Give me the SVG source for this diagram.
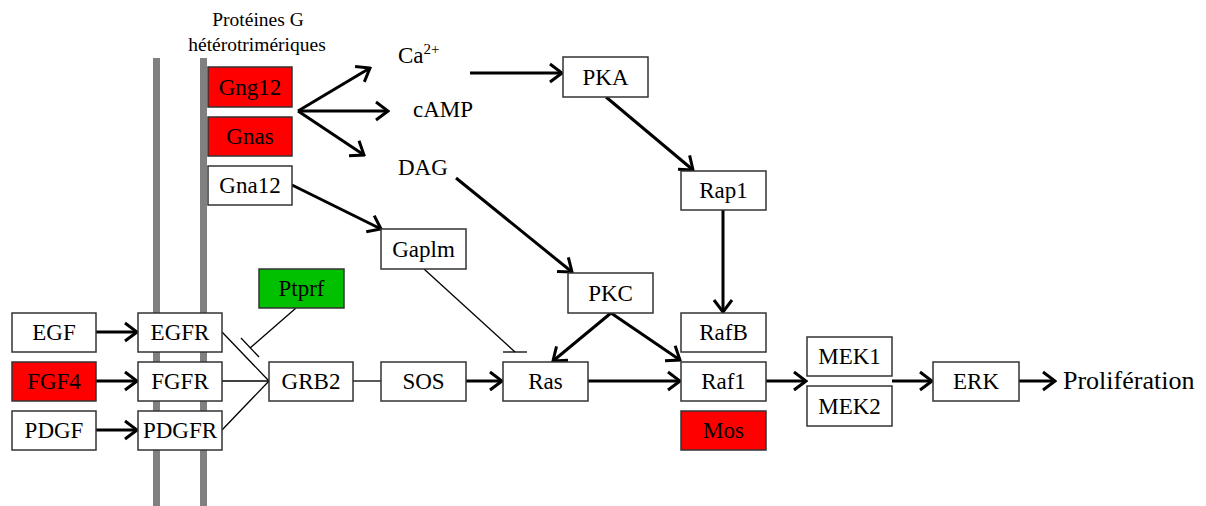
<svg xmlns="http://www.w3.org/2000/svg" width="1206" height="506" viewBox="0 0 1206 506">
<defs>
<marker id="arr" viewBox="0 0 16 22" refX="14" refY="11" markerWidth="16" markerHeight="22" markerUnits="userSpaceOnUse" orient="auto">
<path d="M2,2 L14,11 L2,20" fill="none" stroke="#000" stroke-width="3"/>
</marker>
<style>
.box{fill:#fff;stroke:#333;stroke-width:1.5}
.red{fill:#ff0000}
.green{fill:#00c000}
.t{font-family:"Liberation Serif","Times New Roman",serif;font-size:23px;fill:#000;text-anchor:middle}
.lbl{font-family:"Liberation Serif","Times New Roman",serif;font-size:23px;fill:#000}
.thick{fill:none;stroke:#000;stroke-width:3;marker-end:url(#arr)}
.thin{fill:none;stroke:#000;stroke-width:1.3}
.bar{fill:#808080}
</style>
</defs>
<rect width="1206" height="506" fill="#fff"/>
<g id="membrane">
<rect class="bar" x="153" y="58" width="7" height="448"/>
<rect class="bar" x="200" y="58" width="7" height="448"/>
</g>
<g id="title">
<text class="t" x="258" y="26" style="font-size:19.5px">Protéines G</text>
<text class="t" x="257" y="51" style="font-size:19.5px">hétérotrimériques</text>
</g>
<g id="connectors">
<path class="thick" d="M96,332 H137"/>
<path class="thick" d="M96,381 H137"/>
<path class="thick" d="M96,430 H137"/>
<path class="thick" d="M466,381 H502"/>
<path class="thick" d="M588,381 H680"/>
<path class="thick" d="M766,381 H806"/>
<path class="thick" d="M892,381 H932"/>
<path class="thick" d="M1019,381 H1055"/>
<path class="thick" d="M470,73 H562"/>
<path class="thick" d="M606,97 L693,170"/>
<path class="thick" d="M723,210 V312"/>
<path class="thick" d="M456,178 L572,272"/>
<path class="thick" d="M611,313 L553,361"/>
<path class="thick" d="M611,313 L680,360"/>
<path class="thick" d="M298,111 L370,68"/>
<path class="thick" d="M298,111 H388"/>
<path class="thick" d="M298,111 L364,155"/>
<path class="thick" d="M292,185 L381,229"/>
<path class="thin" d="M222,332 L269,381"/>
<path class="thin" d="M222,381 H269"/>
<path class="thin" d="M222,430 L269,381"/>
<path class="thin" d="M353,381 H381"/>
<path class="thin" d="M296,308 L250,348"/>
<path class="thin" d="M241,338 L259,357"/>
<path class="thin" d="M424,269 L515,352"/>
<path class="thin" d="M503,352 H527"/>
</g>
<g id="EGF"><rect class="box" x="12" y="313" width="84" height="39"/><text class="t" x="54" y="340">EGF</text></g>
<g id="FGF4"><rect class="box red" x="12" y="362" width="84" height="39"/><text class="t" x="54" y="389">FGF4</text></g>
<g id="PDGF"><rect class="box" x="12" y="411" width="84" height="39"/><text class="t" x="54" y="438">PDGF</text></g>
<g id="EGFR"><rect class="box" x="138" y="313" width="84" height="39"/><text class="t" x="180" y="340">EGFR</text></g>
<g id="FGFR"><rect class="box" x="138" y="362" width="84" height="39"/><text class="t" x="180" y="389">FGFR</text></g>
<g id="PDGFR"><rect class="box" x="138" y="411" width="84" height="39"/><text class="t" x="180" y="438">PDGFR</text></g>
<g id="GRB2"><rect class="box" x="269" y="362" width="84" height="39"/><text class="t" x="311" y="389">GRB2</text></g>
<g id="Ptprf"><rect class="box green" x="259" y="269" width="85" height="39"/><text class="t" x="301.5" y="296">Ptprf</text></g>
<g id="SOS"><rect class="box" x="381" y="362" width="85" height="39"/><text class="t" x="423.5" y="389">SOS</text></g>
<g id="Ras"><rect class="box" x="503" y="362" width="85" height="39"/><text class="t" x="545.5" y="389">Ras</text></g>
<g id="Gaplm"><rect class="box" x="381" y="229" width="85" height="40"/><text class="t" x="423.5" y="257">Gaplm</text></g>
<g id="PKC"><rect class="box" x="568" y="273" width="85" height="40"/><text class="t" x="610.5" y="301">PKC</text></g>
<g id="PKA"><rect class="box" x="563" y="57" width="85" height="40"/><text class="t" x="605.5" y="85">PKA</text></g>
<g id="Rap1"><rect class="box" x="681" y="171" width="85" height="39"/><text class="t" x="723.5" y="198">Rap1</text></g>
<g id="RafB"><rect class="box" x="681" y="313" width="85" height="39"/><text class="t" x="723.5" y="340">RafB</text></g>
<g id="Raf1"><rect class="box" x="681" y="362" width="85" height="39"/><text class="t" x="723.5" y="389">Raf1</text></g>
<g id="Mos"><rect class="box red" x="681" y="411" width="85" height="39"/><text class="t" x="723.5" y="438">Mos</text></g>
<g id="MEK1"><rect class="box" x="807" y="337" width="85" height="39"/><text class="t" x="849.5" y="364">MEK1</text></g>
<g id="MEK2"><rect class="box" x="807" y="386" width="85" height="40"/><text class="t" x="849.5" y="414">MEK2</text></g>
<g id="ERK"><rect class="box" x="933" y="362" width="86" height="39"/><text class="t" x="976" y="389">ERK</text></g>
<g id="Gng12"><rect class="box red" x="208" y="67" width="84" height="40"/><text class="t" x="250" y="95">Gng12</text></g>
<g id="Gnas"><rect class="box red" x="208" y="117" width="84" height="39"/><text class="t" x="250" y="144">Gnas</text></g>
<g id="Gna12"><rect class="box" x="208" y="166" width="84" height="39"/><text class="t" x="250" y="193">Gna12</text></g>
<g id="Ca"><text class="lbl" x="398" y="63">Ca<tspan dy="-9" style="font-size:15px">2+</tspan></text></g>
<g id="cAMP"><text class="lbl" x="413" y="117">cAMP</text></g>
<g id="DAG"><text class="lbl" x="398" y="175">DAG</text></g>
<g id="Proliferation"><text class="lbl" x="1063" y="389" style="font-size:26px">Prolifération</text></g>
</svg>
